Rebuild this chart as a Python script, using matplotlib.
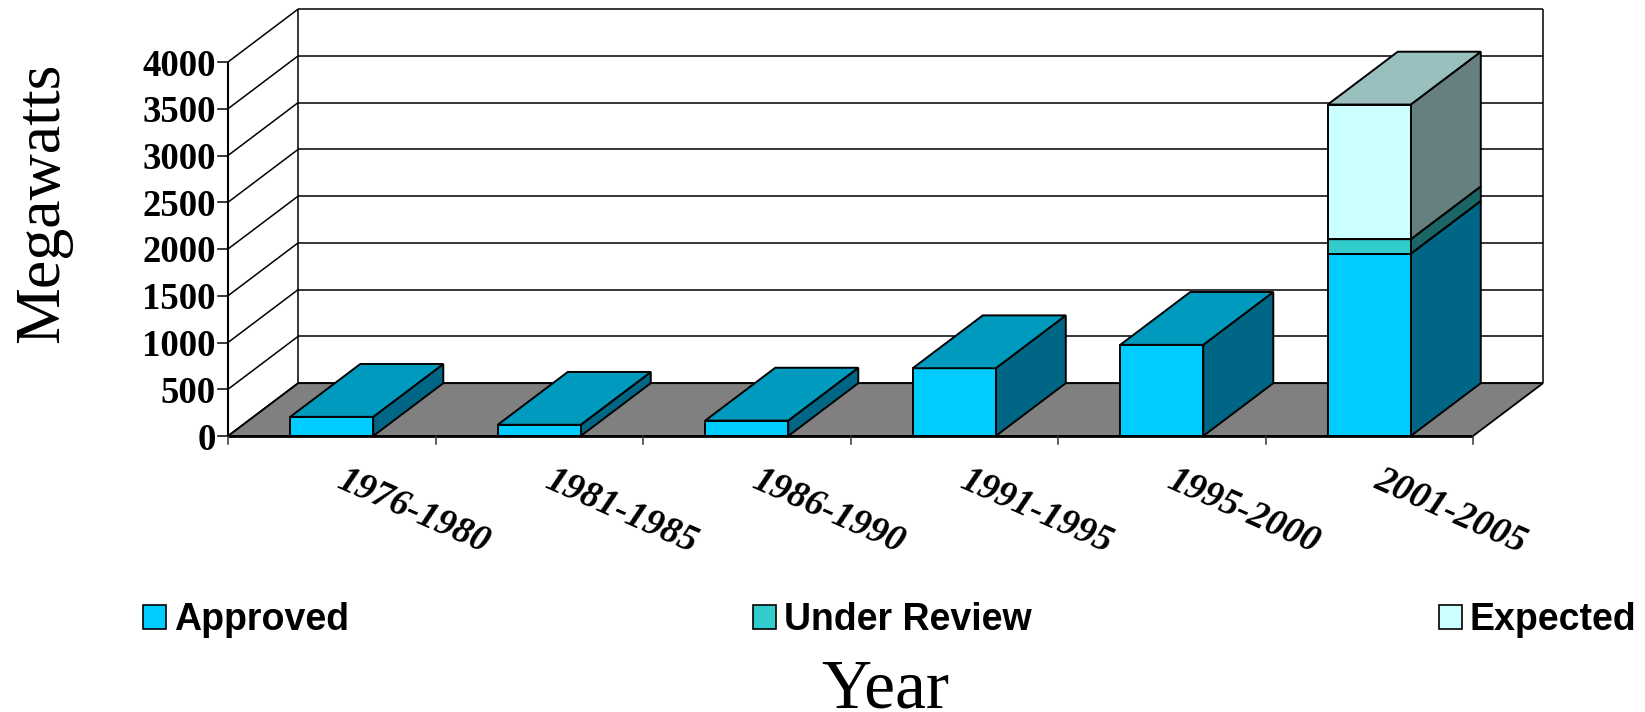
import matplotlib
matplotlib.use('Agg')
import matplotlib.pyplot as plt
from matplotlib.patches import Rectangle

W, H = 1645, 712

periods = ['1976-1980', '1981-1985', '1986-1990', '1991-1995', '1995-2000', '2001-2005']
approved = [205, 120, 165, 725, 975, 1950]
under_review = [0, 0, 0, 0, 0, 155]
expected = [0, 0, 0, 0, 0, 1440]
y_ticks = [0, 500, 1000, 1500, 2000, 2500, 3000, 3500, 4000]

# front, side, top colours of each series
series = [
    ('Approved', approved, '#00CCFF', '#006685', '#009ABF'),
    ('Under Review', under_review, '#33CCCC', '#1A6666', '#269999'),
    ('Expected', expected, '#CCFFFF', '#668080', '#99BFBF'),
]

# oblique depth of the box in data units
depth_x = 0.3375
depth_y = 565
bar_width = 0.4

fig = plt.figure(figsize=(W / 100, H / 100), dpi=100)
ax = fig.add_axes([228 / W, 1 - 436 / H, (1473 - 228) / W, (436 - 62) / H])
ax.set_xlim(0, 6)
ax.set_ylim(0, 4000)
ax.axis('off')


def poly(xs, ys, color, lw=1.4, z=2):
    ax.fill(xs, ys, facecolor=color, edgecolor='black', linewidth=lw, clip_on=False,
            zorder=z, joinstyle='miter')


def line(xs, ys, lw=1.1, z=1):
    ax.plot(xs, ys, color='black', linewidth=lw, clip_on=False, zorder=z, solid_capstyle='butt')


# floor
poly([0, 6, 6 + depth_x, depth_x], [0, 0, depth_y, depth_y], '#808080', lw=1.3, z=1)
line([0, 6], [0, 0], lw=2, z=1.5)

# walls and gridlines
for v in y_ticks:
    line([0, depth_x], [v, v + depth_y])
    line([depth_x, 6 + depth_x], [v + depth_y, v + depth_y])
line([depth_x, depth_x], [depth_y, 4000 + depth_y])
line([6 + depth_x, 6 + depth_x], [depth_y, 4000 + depth_y])
line([0, 0], [0, 4000], lw=1.5, z=3)

# axis ticks
for v in y_ticks:
    ax.plot([-0.05, 0], [v, v], color='black', linewidth=1.1, clip_on=False)
    ax.text(-0.06, v, str(v), ha='right', va='center_baseline', family='Liberation Serif',
            fontweight='bold', fontsize=26.5)
for i in range(7):
    ax.plot([i, i], [0, -85], color='#333333', linewidth=1.1, clip_on=False)

# bars
for i in range(len(periods)):
    x0 = i + (1 - bar_width) / 2
    x1 = x0 + bar_width
    base = 0
    for name, values, front, side, top in series:
        v = values[i]
        if v == 0:
            continue
        poly([x1, x1 + depth_x, x1 + depth_x, x1],
             [base, base + depth_y, base + v + depth_y, base + v], side, z=3)
        poly([x0, x1, x1, x0], [base, base, base + v, base + v], front, z=3)
        poly([x0, x1, x1 + depth_x, x0 + depth_x],
             [base + v, base + v, base + v + depth_y, base + v + depth_y], top, z=3)
        base += v

# slanted category labels
for i, p in enumerate(periods):
    ax.annotate(p, (i + 1, 0), xytext=(-22, -75), textcoords='offset pixels', ha='center', va='center',
                rotation=-24, rotation_mode='anchor', family='Liberation Serif',
                fontweight='bold', fontstyle='italic', fontsize=27, annotation_clip=False)

fig.text(58 / W, 1 - 203 / H, 'Megawatts', rotation=90, rotation_mode='anchor', ha='center',
         va='baseline', family='Liberation Serif', fontsize=46)
fig.text(885 / W, 1 - 707 / H, 'Year', ha='center', va='baseline', family='Liberation Serif',
         fontsize=50)

# legend
legend_x = [143, 753, 1438.5]
for (name, values, front, side, top), lx in zip(series, legend_x):
    fig.add_artist(Rectangle((lx / W, 1 - 629 / H), 23 / W, 24 / H, transform=fig.transFigure,
                             facecolor=front, edgecolor='black', linewidth=1.2))
    fig.text((lx + 31) / W, 1 - 630 / H, name, ha='left', va='baseline',
             family='Liberation Sans', fontweight='bold', fontsize=27)

fig.savefig('out.png', dpi=100)
